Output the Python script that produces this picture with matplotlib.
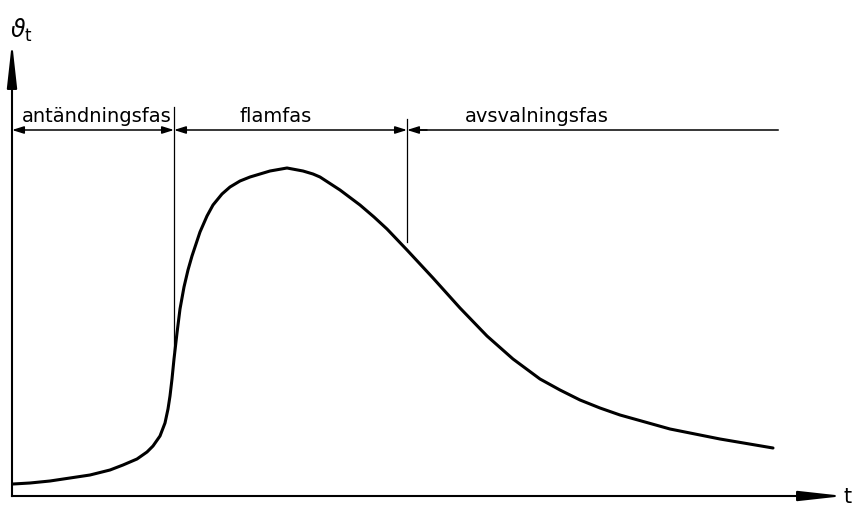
# temperaturforlopp vid brand: antandningsfas, flamfas, avsvalningsfas
import matplotlib.pyplot as plt

# curve (t, temperature), arbitrary units
t = [1, 18, 38, 58, 78, 98, 111, 125, 135, 141, 148, 153, 156, 158, 160,
     162, 165, 168, 172, 176, 180, 188, 195, 201, 210, 218, 228, 238, 248,
     258, 275, 291, 301, 308, 328, 348, 362, 375, 395, 421, 448, 475, 501,
     528, 548, 568, 588, 608, 633, 658, 708, 761]
temp = [12, 13, 15, 18, 21, 26, 31, 37, 44, 50, 60, 73, 87, 100, 117,
        137, 163, 187, 209, 226, 240, 264, 280, 291, 302, 309, 315, 319, 322,
        325, 328, 325, 322, 319, 306, 291, 279, 267, 246, 218, 188, 160, 137,
        117, 106, 96, 88, 81, 74, 67, 57, 48]

# phase boundaries and labels
phase_edges = [0, 162, 395, 766]
phase_names = ['antändningsfas', 'flamfas', 'avsvalningsfas']
label_x = [10, 228, 453]
boundary_top = [389, 377]
boundary_bottom = [145, 254]
dim_y = 366

t_end = 832
temp_end = 454

fig = plt.figure(figsize=(8.53, 5.06), dpi=100)
ax = fig.add_axes([0, 0, 1, 1])
ax.set_xlim(-12, 841)
ax.set_ylim(-9, 497)
ax.axis('off')

# axes with long filled arrows
ax.plot([0, 0], [0, temp_end - 20], color='black', lw=1.5)
ax.plot([0, t_end - 20], [0, 0], color='black', lw=1.5)
big = dict(arrowstyle='-|>,head_length=2.7,head_width=0.3', color='black',
           lw=1.5, mutation_scale=10, shrinkA=0, shrinkB=0)
ax.annotate('', xy=(0, temp_end), xytext=(0, temp_end - 40), arrowprops=big)
ax.annotate('', xy=(t_end, 0), xytext=(t_end - 40, 0), arrowprops=big)
ax.text(9, 467, r'$\vartheta_\mathrm{t}$', fontsize=17, ha='center', va='center')
ax.text(836, 0, 't', fontsize=15, ha='center', va='center')

# the curve
ax.plot(t, temp, color='black', lw=2.2, solid_capstyle='round',
        solid_joinstyle='round')

# phase boundaries
for x, y0, y1 in zip(phase_edges[1:3], boundary_bottom, boundary_top):
    ax.plot([x, x], [y0, y1], color='black', lw=0.9)

# dimension arrows
small = dict(arrowstyle='<|-|>,head_length=0.7,head_width=0.22',
             color='black', lw=1.1, mutation_scale=10, shrinkA=0, shrinkB=0)
for i in range(3):
    if i < 2:
        ax.annotate('', xy=(phase_edges[i], dim_y),
                    xytext=(phase_edges[i + 1], dim_y), arrowprops=small)
    else:
        ax.annotate('', xy=(phase_edges[i], dim_y),
                    xytext=(phase_edges[i] + 20, dim_y),
                    arrowprops=dict(small, arrowstyle='-|>,head_length=0.7,head_width=0.22'))
        ax.plot([phase_edges[i] + 8, phase_edges[i + 1]], [dim_y, dim_y],
                color='black', lw=1.1)
    ax.text(label_x[i], 375, phase_names[i], fontsize=14, ha='left', va='baseline')

fig.savefig('out.png', dpi=100)
